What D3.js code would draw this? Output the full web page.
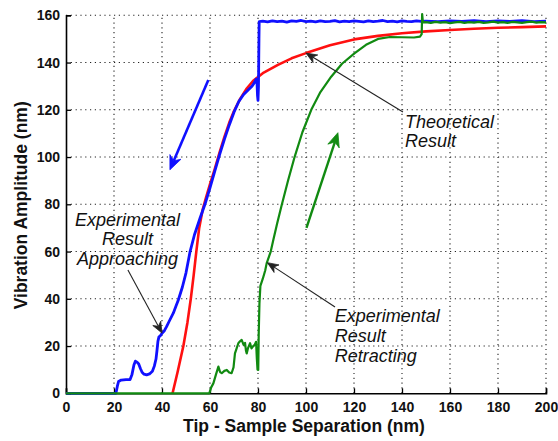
<!DOCTYPE html>
<html>
<head>
<meta charset="utf-8">
<script src="https://cdn.jsdelivr.net/npm/d3@7"></script>
<style>
  html, body { margin: 0; padding: 0; background: #fff; }
  svg { display: block; }
</style>
</head>
<body>
<svg id="chart" width="558" height="441"></svg>
<script>
// ---- data (x: nm, y: nm) ----
const xTicks = [0, 20, 40, 60, 80, 100, 120, 140, 160, 180, 200];
const yTicks = [0, 20, 40, 60, 80, 100, 120, 140, 160];

const theoretical = [
  [44.4,0],[46.5,9],[48.9,20],[50.6,30],[52.0,40],[53.2,50],[54.3,60],[55.5,70],
  [57.0,78],[58.4,83],[60,88.5],[62,95],[64,102],[66,108.5],[68,114.5],[70,119.5],[72.5,124.5],
  [75.3,129],[78,132.3],[82,135.5],[88.3,139],[94,141.8],[100,144],[110,147.3],
  [120,149.8],[130,151.3],[140,152.4],[150,153.2],[160,153.8],[170,154.3],
  [180,154.7],[190,155],[200,155.3]
];

const approaching = [
  [0,0],[20.8,0],[21.4,3],[21.9,5],[23,5.6],[25,5.8],[26.7,5.8],[27.5,8],[28.3,12],
  [28.9,13.6],[29.6,13.2],[30.3,12.4],[31,10.5],[31.7,8.9],[32.5,8.1],[33.6,7.8],
  [34.8,8.2],[36,9.3],[36.8,11.5],[37.5,14.5],[37.9,18],[38.3,22],[38.7,23.8],
  [39.4,24.5],[40,25.4],[41,26.5],[41.9,28.2],[43,30.5],[44.7,33.9],[45.8,36.8],
  [46.8,39.5],[48.5,45],[50,51],[51.7,60],[53.5,67],[55.8,74],[57.9,80],[60,87],
  [62,94],[64,101],[66,107.5],[68,113.5],[70,119],[72,123.5],[74,126.5],[76,128.5],
  [77.5,130],[78.5,131.5],[79.2,133],[79.6,131],[79.8,126],[80,124],[80.2,130],
  [80.3,140],[80.4,150],[80.5,157.3],[82,157.5],[84,157.2],[86,157.6],[88,157.3],
  [90,157.5],[92,157.1],[94,157.6],[96,157.4],[98,157.8],[100,157.3],[102,157.5],
  [104,157.2],[106,157.6],[108,157.3],[110,157.4],[112,157.7],[114,157.2],[116,157.5],
  [118,157.3],[120,157.6],[122,157.4],[124,157.2],[126,157.6],[128,157.3],[130,157.5],
  [132,157.8],[134,157.3],[136,157.5],[138,157.2],[140,157.6],[142,157.4],[144,157.3],
  [146,157.6],[148,157.4],[150,157.5],[155,157.3],[160,157.6],[165,157.4],[170,157.7],
  [175,157.3],[180,157.6],[185,157.4],[190,157.7],[195,157.3],[200,157.5]
];

const retracting = [
  [0,0],[59.7,0],[60.5,2.5],[61.4,4.2],[62.5,8],[63.5,11.3],[64.2,9],[64.9,8.5],
  [66,9.5],[67,9.9],[68,8.8],[69,8.5],[69.8,11],[70.4,16.9],[71.1,19],[71.8,21.2],
  [72.5,22],[73.2,22.6],[74,20.5],[74.6,21.3],[75,18],[75.3,16.9],[75.8,19],
  [76.7,21.2],[77.3,19],[78,20],[78.6,20.5],[79.2,21.8],[79.5,15],[79.8,10],
  [80.1,9.9],[80.3,25],[80.6,38],[81,45.5],[82,48.5],[83,52],[83.6,55],[85.3,60],
  [86.4,65],[88,72],[89.7,79],[92.5,90],[95.3,100.2],[98.5,110.5],[102.2,120],
  [106,127.5],[110.5,134],[115,139.5],[120.3,144],[125,147.5],[130,150],[135,150.8],
  [140,150.7],[145,150.6],[147.5,151],[148.2,152],[148.4,160.5],[148.7,157],
  [150,157.1],[152,156.8],[154,157.2],[156,156.9],[158,157.1],[160,156.7],[162,157],
  [164,157.2],[166,156.8],[168,157.1],[170,156.9],[172,157.2],[174,156.8],[176,157],
  [178,157.3],[180,156.9],[182,157.1],[184,156.8],[186,157.2],[188,157],[190,156.8],
  [192,157.1],[194,157.3],[196,156.9],[198,157.1],[200,157]
];

// annotation arrows: [tail, head] in data units
const blueArrow   = [[59.3,132.6],[43.3,94.6]];
const greenArrow  = [[100.2,70],[113.3,110.3]];
const noteArrows  = [
  [[140.4,119.1],[100,144]],
  [[25.8,52.2],[40,25.5]],
  [[112.1,36.5],[83.9,55.3]]
];

// annotation texts: lines, anchor point (data units), alignment
const notes = [
  { lines: ["Theoretical", "Result"], at: [141.25,112.4], anchor: "start" },
  { lines: ["Experimental", "Result", "Approaching"], at: [25.6,71], anchor: "middle" },
  { lines: ["Experimental", "Result", "Retracting"], at: [111.96,30], anchor: "start" }
];

// ---- drawing ----
const svg = d3.select("#chart");
const L = 66, R = 546, T = 15.3, B = 393.3;
const x = d3.scaleLinear().domain([0,200]).range([L,R]);
const y = d3.scaleLinear().domain([0,160]).range([B,T]);

svg.append("rect").attr("width",558).attr("height",441).attr("fill","#fff");

// grid
const grid = svg.append("g").attr("stroke","#222").attr("stroke-width",1.1)
  .attr("stroke-dasharray","1.2,3.6");
grid.selectAll(".gx").data(xTicks.filter(d=>d>0)).join("line")
  .attr("x1",d=>x(d)).attr("x2",d=>x(d)).attr("y1",B).attr("y2",T);
grid.selectAll(".gy").data(yTicks.filter(d=>d>0)).join("line")
  .attr("y1",d=>y(d)).attr("y2",d=>y(d)).attr("x1",L).attr("x2",R);

// axes
const fontTick = "'Liberation Sans', Arial, sans-serif";
const xAxis = svg.append("g").attr("transform",`translate(0,${B})`)
  .call(d3.axisBottom(x).tickValues(xTicks).tickSize(-5).tickPadding(9).tickFormat(d3.format("d")));
const yAxis = svg.append("g").attr("transform",`translate(${L},0)`)
  .call(d3.axisLeft(y).tickValues(yTicks).tickSize(-5).tickPadding(6).tickFormat(d3.format("d")));
[xAxis, yAxis].forEach(a => {
  a.select(".domain").attr("stroke","#000").attr("stroke-width",1.6);
  a.selectAll(".tick line").attr("stroke","#000").attr("stroke-width",1.3);
  a.selectAll(".tick text").attr("fill","#111").style("font-family",fontTick)
    .style("font-size","14px").style("font-weight","bold");
});

// curves
const line = d3.line().x(d=>x(d[0])).y(d=>y(d[1]));
svg.append("path").datum(theoretical).attr("d",line).attr("fill","none")
  .attr("stroke","#ff1010").attr("stroke-width",2.6).attr("stroke-linejoin","round");
svg.append("path").datum(approaching).attr("d",line).attr("fill","none")
  .attr("stroke","#1010ff").attr("stroke-width",2.8).attr("stroke-linejoin","round");
svg.append("path").datum(retracting).attr("d",line).attr("fill","none")
  .attr("stroke","#118a11").attr("stroke-width",2.2).attr("stroke-linejoin","round");

// arrows
function arrow(pair, color, width, hl, hw) {
  const [t, h] = pair;
  const tx = x(t[0]), ty = y(t[1]), hx = x(h[0]), hy = y(h[1]);
  const dx = hx - tx, dy = hy - ty, len = Math.hypot(dx, dy);
  const ux = dx/len, uy = dy/len, nx = -uy, ny = ux;
  const bx = hx - ux*hl, by = hy - uy*hl;
  const mx = hx - ux*hl*0.7, my = hy - uy*hl*0.7;
  svg.append("line").attr("x1",tx).attr("y1",ty).attr("x2",mx).attr("y2",my)
    .attr("stroke",color).attr("stroke-width",width);
  svg.append("path")
    .attr("d",`M${hx},${hy}L${bx+nx*hw},${by+ny*hw}L${mx},${my}L${bx-nx*hw},${by-ny*hw}Z`)
    .attr("fill",color).attr("stroke",color).attr("stroke-width",0.8).attr("stroke-linejoin","miter");
}
arrow(blueArrow, "#1010ff", 2.6, 14, 6);
arrow(greenArrow, "#118a11", 2.4, 14, 6);
noteArrows.forEach(p => arrow(p, "#222", 1.1, 11, 4.5));

// annotation text
notes.forEach(n => {
  const t = svg.append("text").attr("x",x(n.at[0])).attr("y",y(n.at[1]))
    .attr("text-anchor",n.anchor).attr("fill","#111")
    .style("font-family",fontTick).style("font-size","18px").style("font-style","italic");
  n.lines.forEach((s,i) => t.append("tspan").attr("x",x(n.at[0])).attr("dy", i===0?0:19.7).text(s));
});

// axis titles
svg.append("text").attr("x",(L+R)/2 - 2).attr("y",431.5).attr("text-anchor","middle")
  .style("font-family",fontTick).style("font-size","17.5px").style("font-weight","bold")
  .attr("fill","#111").text("Tip - Sample Separation (nm)");
svg.append("text").attr("transform",`translate(26.5,${(T+B)/2 + 1}) rotate(-90)`)
  .attr("text-anchor","middle")
  .style("font-family",fontTick).style("font-size","17.5px").style("font-weight","bold")
  .attr("fill","#111").text("Vibration Amplitude (nm)");
</script>
</body>
</html>
